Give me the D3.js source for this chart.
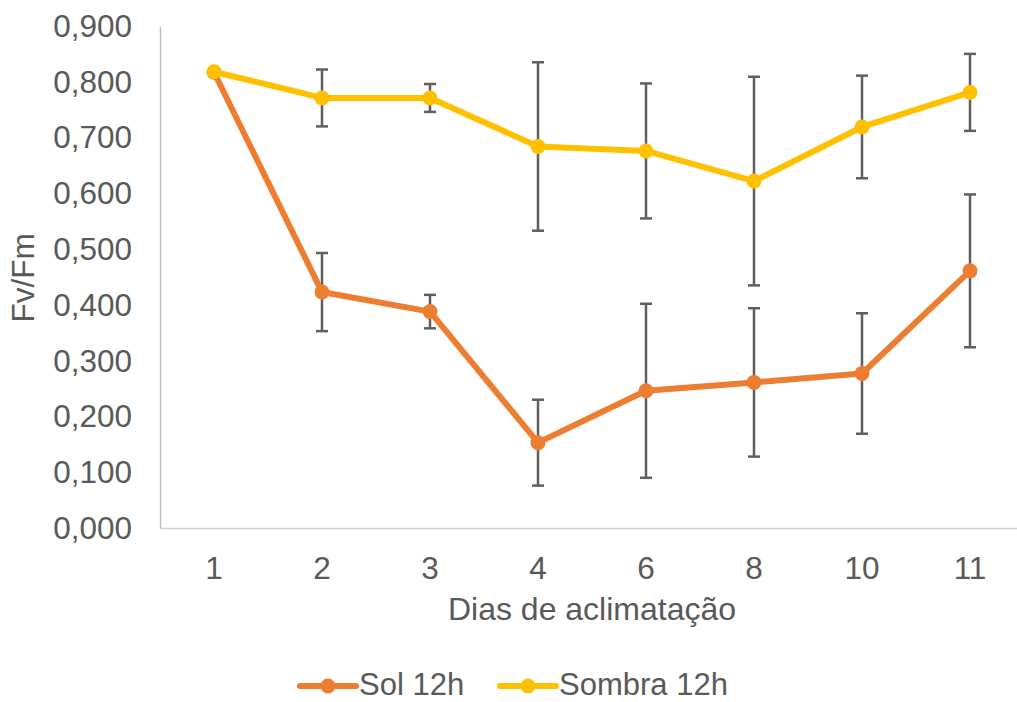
<!DOCTYPE html>
<html>
<head>
<meta charset="utf-8">
<script src="https://cdn.jsdelivr.net/npm/d3@7"></script>
<style>
  html, body { margin: 0; padding: 0; background: #ffffff; }
  svg { display: block; }
  text { font-family: "Liberation Sans", Arial, sans-serif; fill: #595959; }
</style>
</head>
<body>
<svg id="chart" width="1017" height="702"></svg>
<script>
const categories = ["1", "2", "3", "4", "6", "8", "10", "11"];
const solValues    = [0.817, 0.423, 0.388, 0.153, 0.246, 0.261, 0.277, 0.461];
const solErrors    = [0.000, 0.070, 0.030, 0.077, 0.156, 0.133, 0.108, 0.137];
const sombraValues = [0.818, 0.771, 0.771, 0.684, 0.676, 0.622, 0.719, 0.781];
const sombraErrors = [0.000, 0.051, 0.025, 0.151, 0.121, 0.187, 0.092, 0.069];
const yTicks = [0, 0.1, 0.2, 0.3, 0.4, 0.5, 0.6, 0.7, 0.8, 0.9];
const seriesNames = ["Sol 12h", "Sombra 12h"];
const seriesColors = ["#ED7D31", "#FFC000"];
const xTitle = "Dias de aclimatação";
const yTitle = "Fv/Fm";

(function () {
const svg = d3.select("#chart");
const pLeft = 160, pRight = 1024, pTop = 26, pBottom = 528;

const x = d3.scaleBand().domain(categories).range([pLeft, pRight]).padding(0);
const y = d3.scaleLinear().domain([0, 0.9]).range([pBottom, pTop]);
const fmt = v => d3.format(".3f")(v).replace(".", ",");

// Axes
const yAxis = d3.axisLeft(y).tickValues(yTicks).tickFormat(fmt).tickSize(0).tickPadding(28);
const gy = svg.append("g").attr("transform", `translate(${pLeft},0)`).call(yAxis);
gy.select(".domain").attr("stroke", "#bfbfbf").attr("stroke-width", 1.5);
gy.selectAll("text").attr("font-size", 31.5).attr("fill", "#595959")
  .attr("font-family", "Liberation Sans, Arial, sans-serif").attr("dy", "0.33em");

const xAxis = d3.axisBottom(x).tickSize(0).tickPadding(28);
const gx = svg.append("g").attr("transform", `translate(0,${pBottom})`).call(xAxis);
gx.select(".domain").attr("stroke", "#d0d0d0").attr("stroke-width", 1.5);
gx.selectAll("text").attr("font-size", 31.5).attr("fill", "#595959")
  .attr("font-family", "Liberation Sans, Arial, sans-serif").attr("dy", "0.72em");

// Titles
svg.append("text").attr("x", 592).attr("y", 620).attr("text-anchor", "middle")
  .attr("font-size", 32).text(xTitle);
svg.append("text").attr("transform", "translate(34,278) rotate(-90)")
  .attr("text-anchor", "middle").attr("font-size", 31.5).text(yTitle);

const series = [
  { vals: solValues, errs: solErrors, color: seriesColors[0] },
  { vals: sombraValues, errs: sombraErrors, color: seriesColors[1] }
];
const cx = c => x(c) + x.bandwidth() / 2;

// Error bars
series.forEach(s => {
  const g = svg.append("g").attr("stroke", "#5f5f5f").attr("stroke-width", 2.5);
  categories.forEach((c, i) => {
    if (s.errs[i] <= 0) return;
    const y1 = y(s.vals[i] + s.errs[i]), y2 = y(s.vals[i] - s.errs[i]);
    g.append("line").attr("x1", cx(c)).attr("x2", cx(c)).attr("y1", y1).attr("y2", y2);
    g.append("line").attr("x1", cx(c) - 6).attr("x2", cx(c) + 6).attr("y1", y1).attr("y2", y1);
    g.append("line").attr("x1", cx(c) - 6).attr("x2", cx(c) + 6).attr("y1", y2).attr("y2", y2);
  });
});

// Lines and markers
const line = d3.line().x((d, i) => cx(categories[i])).y(d => y(d));
series.forEach(s => {
  svg.append("path").datum(s.vals).attr("d", line).attr("fill", "none")
    .attr("stroke", s.color).attr("stroke-width", 6).attr("stroke-linejoin", "round");
  svg.append("g").selectAll("circle").data(s.vals).join("circle")
    .attr("cx", (d, i) => cx(categories[i])).attr("cy", d => y(d)).attr("r", 7.5)
    .attr("fill", s.color);
});

// Legend
const legendItems = [
  { name: seriesNames[0], color: seriesColors[0], x0: 300 },
  { name: seriesNames[1], color: seriesColors[1], x0: 500 }
];
legendItems.forEach(it => {
  const g = svg.append("g");
  g.append("line").attr("x1", it.x0).attr("x2", it.x0 + 56).attr("y1", 686).attr("y2", 686)
    .attr("stroke", it.color).attr("stroke-width", 6).attr("stroke-linecap", "round");
  g.append("circle").attr("cx", it.x0 + 28).attr("cy", 686).attr("r", 7.5).attr("fill", it.color);
  g.append("text").attr("x", it.x0 + 59).attr("y", 695).attr("font-size", 31).text(it.name);
});
})();
</script>
</body>
</html>
